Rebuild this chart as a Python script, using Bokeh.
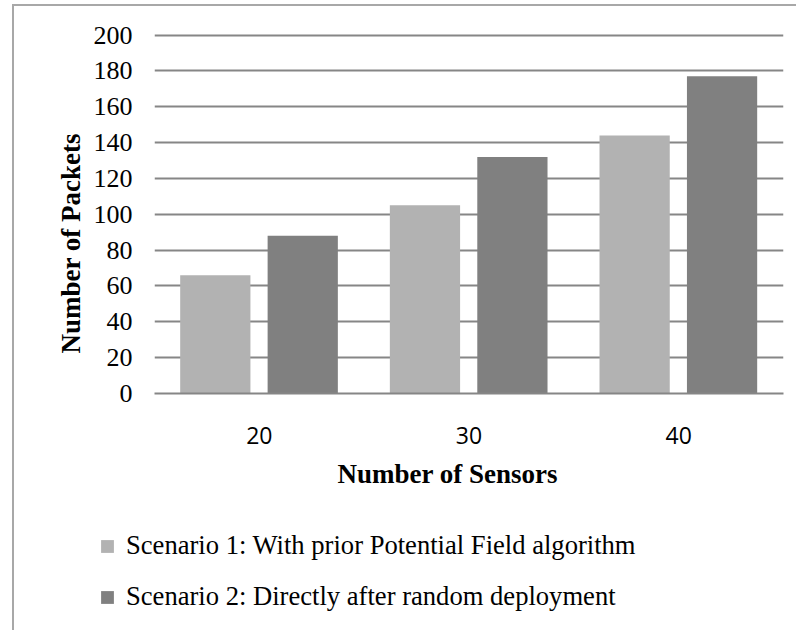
from bokeh.plotting import figure
from bokeh.layouts import column
from bokeh.models import (FactorRange, Range1d, FixedTicker, Title, Legend, LegendItem,
                          ColumnDataSource)
from bokeh.transform import dodge
from bokeh.embed import file_html
from bokeh.resources import INLINE

# Data
sensors = ["20", "30", "40"]
scenario1 = [66, 105, 144]   # With prior Potential Field algorithm
scenario2 = [88, 132, 177]   # Directly after random deployment
y_ticks = [0, 20, 40, 60, 80, 100, 120, 140, 160, 180, 200]

label1 = "Scenario 1: With prior Potential Field algorithm"
label2 = "Scenario 2: Directly after random deployment"

LIGHT = "#b2b2b2"
DARK = "#808080"
GRID = "#868686"
SERIF = "Liberation Serif"

source = ColumnDataSource(data=dict(sensors=sensors, s1=scenario1, s2=scenario2))


def add_bars(fig):
    a = fig.vbar(x=dodge("sensors", -0.21, range=fig.x_range), top="s1", width=0.335,
                 source=source, fill_color=LIGHT, line_color=None)
    b = fig.vbar(x=dodge("sensors", 0.207, range=fig.x_range), top="s2", width=0.335,
                 source=source, fill_color=DARK, line_color=None)
    return a, b


# ---- main chart ----
p = figure(
    width=782, height=514,
    x_range=FactorRange(factors=sensors),
    y_range=Range1d(0, 200.84),
    output_backend="svg", toolbar_location=None,
    min_border_left=140, min_border_right=13,
    min_border_top=27, min_border_bottom=127,
)
p.outline_line_color = None
p.background_fill_color = "white"
p.border_fill_color = "white"

add_bars(p)

p.xgrid.grid_line_color = None
p.ygrid.ticker = FixedTicker(ticks=y_ticks)
p.ygrid.grid_line_color = GRID
p.ygrid.grid_line_width = 2

p.yaxis.ticker = FixedTicker(ticks=y_ticks)
p.yaxis.axis_line_color = None
p.yaxis.major_tick_line_color = None
p.yaxis.minor_tick_line_color = None
p.yaxis.major_label_standoff = 16
p.yaxis.major_label_text_font = SERIF
p.yaxis.major_label_text_font_size = "26px"
p.yaxis.major_label_text_color = "black"

p.xaxis.axis_line_color = GRID
p.xaxis.axis_line_width = 2
p.xaxis.major_tick_line_color = None
p.xaxis.minor_tick_line_color = None
p.xaxis.major_label_standoff = 27
p.xaxis.major_label_text_font = "Open Sans"
p.xaxis.major_label_text_font_size = "23px"
p.xaxis.major_label_text_color = "black"

x_title = Title(text="Number of Sensors", align="left", offset=183,
                text_font=SERIF, text_font_size="27px", text_font_style="bold",
                text_color="black", standoff=20)
y_title = Title(text="Number of Packets", align="left", offset=40,
                text_font=SERIF, text_font_size="27px", text_font_style="bold",
                text_color="black", standoff=10)
p.add_layout(x_title, "below")
p.add_layout(y_title, "left")

# ---- legend strip under the chart ----
lg = figure(
    width=782, height=110,
    x_range=FactorRange(factors=sensors),
    y_range=Range1d(1000, 1001),   # bars lie outside this window; only the legend shows
    output_backend="svg", toolbar_location=None,
    x_axis_location=None, y_axis_location=None,
    min_border=0,
)
if "frame_align" in lg.properties():
    lg.frame_align = False
lg.outline_line_color = None
lg.background_fill_color = "white"
lg.border_fill_color = "white"
lg.grid.grid_line_color = None
l1, l2 = add_bars(lg)

legend = Legend(
    items=[LegendItem(label=label1, renderers=[l1]),
           LegendItem(label=label2, renderers=[l2])],
    location=(85, 18), orientation="vertical",
    glyph_width=16, glyph_height=16, label_standoff=11,
    padding=0, margin=0, spacing=20,
    border_line_color=None, background_fill_alpha=0,
    label_text_font=SERIF, label_text_font_size="26.6px", label_text_color="black",
)
lg.add_layout(legend, "center")

layout = column(p, lg, spacing=0)
layout.styles = {
    "margin-left": "12px", "margin-top": "4px",
    "border-left": "2px solid #a8a8a8", "border-top": "2px solid #a8a8a8",
}

open("out.html", "w").write(file_html(layout, INLINE))
